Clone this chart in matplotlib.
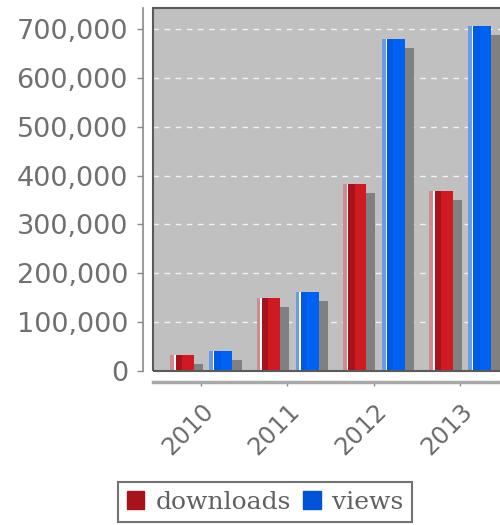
import numpy as np
import matplotlib
matplotlib.use('Agg')
import matplotlib.pyplot as plt
from matplotlib.patches import Rectangle
import matplotlib.ticker as ticker
import matplotlib.transforms as mtransforms

# data
years = ['2010', '2011', '2012', '2013']
downloads = [33000, 149000, 382000, 368000]
views = [41000, 161000, 680000, 706000]

fig = plt.figure(figsize=(5, 5.25), dpi=100)
# plot area runs past the right edge of the picture, like the original
ax = fig.add_axes([0.306, 0.2933, 0.714, 0.6914])
ax.set_facecolor('#c0c0c0')

x = np.arange(len(years))
w = 0.27
sx, sy = 0.105, 18000   # drop shadow offset

def draw_series(xpos, vals, body, left, stripe):
    # shadow first, bar on top
    ax.bar(xpos + sx, np.array(vals) - sy, w, color='#808080', zorder=2)
    ax.bar(xpos, vals, w, color=body, zorder=3)
    ax.bar(xpos - w / 4, vals, w / 2, color=left, zorder=3)
    ax.bar(xpos - w / 2 + 0.022, vals, 0.044, color=stripe, zorder=4)
    ax.bar(xpos - w / 2 + 0.052, vals, 0.018, color='white', zorder=4)

draw_series(x - 0.22, downloads, '#d01a22', '#a8121a', '#d08a90')
draw_series(x + 0.23, views, '#0062f2', '#005ae8', '#6a9ae8')

ax.set_xlim(-0.556, 3.58)
ax.set_ylim(0, 743000)
ax.set_yticks(np.arange(0, 700001, 100000))
ax.yaxis.set_major_formatter(ticker.FuncFormatter(lambda v, p: f'{int(v):,}'))
ax.set_xticks(x)
ax.set_xticklabels(years)

ax.grid(axis='y', color='white', linestyle=(0, (4, 4)), linewidth=1, alpha=0.8, zorder=1)
ax.set_axisbelow(True)
ax.axhline(0, color='#2a3a9a', linestyle=(0, (3, 2)), linewidth=1.2, zorder=5)

# axis lines sit apart from the plot frame
for s in ['top', 'right']:
    ax.spines[s].set_visible(False)
ax.spines['left'].set_position(('outward', 7.5))
ax.spines['left'].set_color('#8a8a8a')
ax.spines['left'].set_linewidth(1.2)
ax.spines['bottom'].set_position(('outward', 8))
ax.spines['bottom'].set_color('#a8a8a8')
ax.spines['bottom'].set_linewidth(2.5)
ax.add_patch(Rectangle((0, 0), 1, 1, transform=ax.transAxes, fill=False,
                       edgecolor='#5a5a5a', linewidth=1.5, zorder=6, clip_on=False))

ax.tick_params(axis='y', length=4, width=1, color='#8a8a8a', pad=6.5,
               labelsize=19.5, labelcolor='#707070')
ax.tick_params(axis='x', length=3, width=1, color='#8a8a8a', pad=15,
               labelsize=17.5, labelcolor='#6a6a6a', labelrotation=45)
shift = mtransforms.ScaledTranslation(0.09, 0, fig.dpi_scale_trans)
for lab in ax.get_xticklabels():
    lab.set_ha('right')
    lab.set_va('center')
    lab.set_rotation_mode('anchor')
    lab.set_transform(lab.get_transform() + shift)

handles = [Rectangle((0, 0), 1, 1, color='#a8121a'),
           Rectangle((0, 0), 1, 1, color='#0052d8')]
leg = fig.legend(handles, ['downloads', 'views'], ncol=2, loc='upper left',
                 bbox_to_anchor=(0.236, 0.082), frameon=True, fancybox=False,
                 prop={'family': 'DejaVu Serif', 'size': 18},
                 handlelength=0.7, handleheight=0.7, handletextpad=0.45,
                 columnspacing=0.5, borderpad=0.35, borderaxespad=0)
leg.get_frame().set_edgecolor('#505050')
leg.get_frame().set_linewidth(1.5)
for t in leg.get_texts():
    t.set_color('#606060')

fig.savefig('out.png', dpi=100)
